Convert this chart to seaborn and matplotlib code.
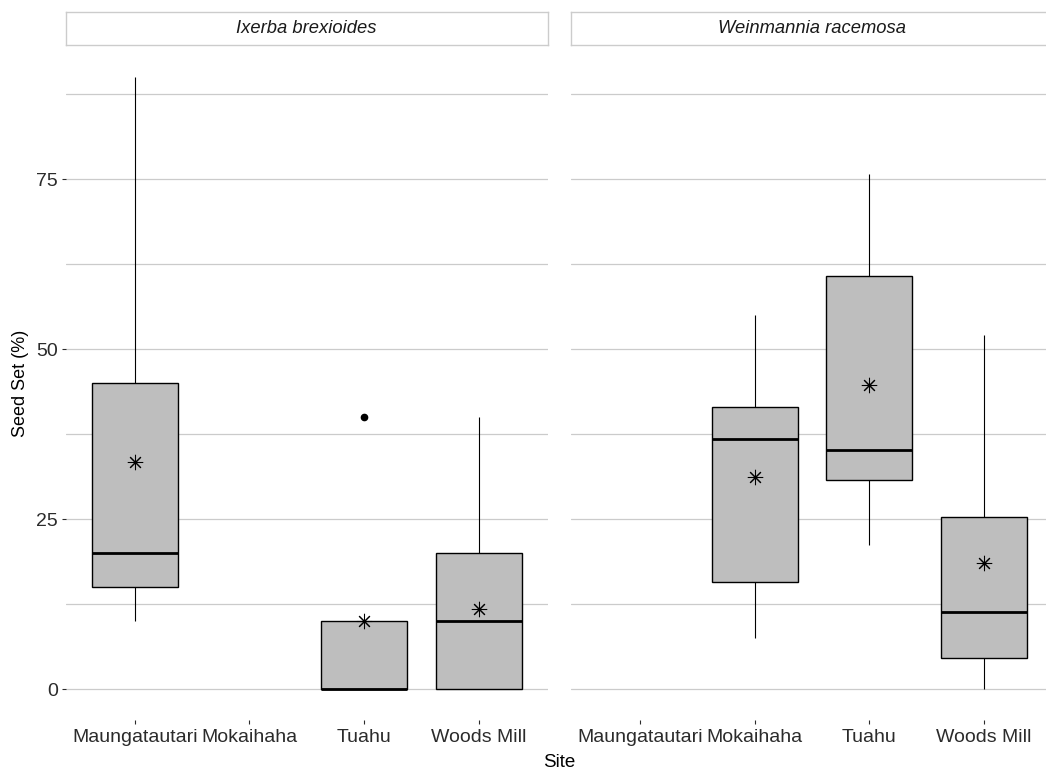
import matplotlib
matplotlib.use("Agg")
import matplotlib.pyplot as plt
import pandas as pd
import seaborn as sns

# Categories
sites = ["Maungatautari", "Mokaihaha", "Tuahu", "Woods Mill"]
species = ["Ixerba brexioides", "Weinmannia racemosa"]

# Seed set (%) recorded per plant, by species and site
ixerba_maungatautari = [10, 10, 15, 15, 20, 40, 45, 55, 90]
ixerba_tuahu = [0, 0, 0, 10, 40]
ixerba_woods_mill = [0, 0, 0, 0, 10, 12, 20, 24, 40]
weinmannia_mokaihaha = [7.5, 12, 15.8, 28, 36.7, 38, 41.4, 45.6, 55]
weinmannia_tuahu = [21.2, 28, 30.8, 33, 35.1, 52, 60.8, 65.7, 75.7]
weinmannia_woods_mill = [0, 2, 4.5, 8, 11.3, 20, 25.3, 44.2, 52.1]

# Axis ticks
y_major = [0, 25, 50, 75]
y_minor = [12.5, 37.5, 62.5, 87.5]

groups = [
    (species[0], sites[0], ixerba_maungatautari),
    (species[0], sites[2], ixerba_tuahu),
    (species[0], sites[3], ixerba_woods_mill),
    (species[1], sites[1], weinmannia_mokaihaha),
    (species[1], sites[2], weinmannia_tuahu),
    (species[1], sites[3], weinmannia_woods_mill),
]
rows = [(sp, site, v) for sp, site, vals in groups for v in vals]
df = pd.DataFrame(rows, columns=["species", "site", "seed_set"])

sns.set_style("white")
plt.rcParams["font.family"] = ["Liberation Sans", "DejaVu Sans"]

W, H = 1046, 769
fig = plt.figure(figsize=(W / 100, H / 100), dpi=100)


def fx(px):
    return px / W


def fy(py):
    return 1 - py / H


panel_left = [66.0, 571.2]
panel_w = 481.5
panel_top, panel_bot = 46.4, 719.6
strip_top, strip_bot = 11.5, 45.0

grid_col = "#cbcbcb"
box_fill = "#bebebe"
tick_text = "#2b2b2b"

for i, sp in enumerate(species):
    ax = fig.add_axes([fx(panel_left[i]), fy(panel_bot), fx(panel_w),
                       (panel_bot - panel_top) / H])
    sub = df[df["species"] == sp]
    sns.boxplot(
        data=sub, x="site", y="seed_set", order=sites, ax=ax,
        width=0.75, color=box_fill, saturation=1, linecolor="black",
        linewidth=1.0, whis=1.5, fliersize=4.5, showcaps=False,
        showmeans=True,
        meanprops=dict(marker=(8, 2, 0), markeredgecolor="black",
                       markerfacecolor="black", markersize=11,
                       markeredgewidth=0.75),
        medianprops=dict(linewidth=2.0, color="black"),
        whiskerprops=dict(linewidth=0.8),
        flierprops=dict(marker="o", markerfacecolor="black",
                        markeredgecolor="black"),
    )
    ax.set_xlim(-0.6, 3.6)
    ax.set_ylim(-4.5, 94.5)
    ax.set_yticks(y_major)
    ax.set_yticks(y_minor, minor=True)
    ax.grid(False)
    ax.grid(axis="y", which="both", color=grid_col, linewidth=0.9)
    ax.set_axisbelow(True)
    for s in ax.spines.values():
        s.set_visible(False)
    ax.set_xlabel("")
    ax.set_ylabel("")
    ax.tick_params(axis="x", which="major", bottom=True, length=3, width=0.8,
                   color=tick_text, pad=4, labelsize=14,
                   labelcolor=tick_text)
    ax.tick_params(axis="y", which="minor", left=False, length=0)
    if i == 0:
        ax.tick_params(axis="y", which="major", left=True, length=3,
                       width=0.8, color=tick_text, pad=3, labelsize=14,
                       labelcolor=tick_text)
    else:
        ax.tick_params(axis="y", which="major", left=False, labelleft=False)

    # facet strip
    sax = fig.add_axes([fx(panel_left[i]), fy(strip_bot), fx(panel_w),
                        (strip_bot - strip_top) / H])
    sax.set_xticks([])
    sax.set_yticks([])
    sax.set_facecolor("white")
    for s in sax.spines.values():
        s.set_visible(True)
        s.set_color("#cccccc")
        s.set_linewidth(1.0)
    sax.text(0.5, 0.48, sp, style="italic", ha="center", va="center",
             fontsize=13.2, color="#1a1a1a", transform=sax.transAxes)

fig.text(fx(559), fy(767), "Site", ha="center", va="baseline",
         fontsize=13.5, color="black")
fig.text(fx(21), fy(383), "Seed Set (%)", rotation=90, ha="center",
         va="center", fontsize=13, color="black")

fig.savefig("out.png", dpi=100, facecolor="white")
